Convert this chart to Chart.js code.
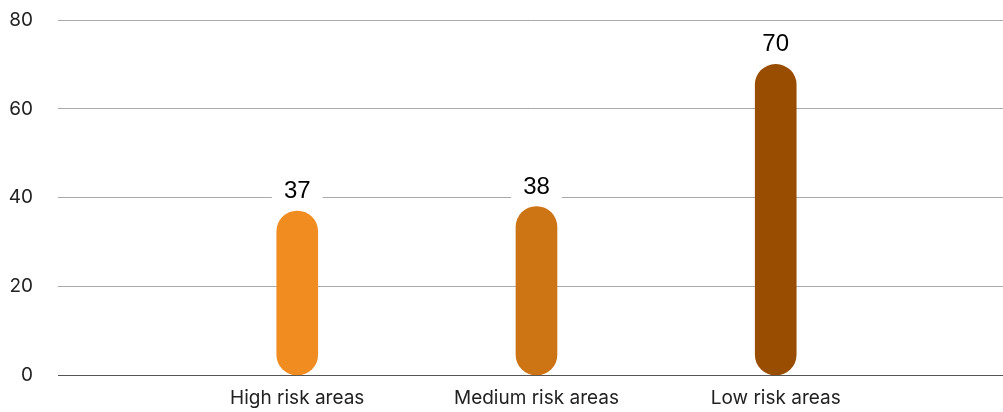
<!DOCTYPE html>
<html>
<head>
<meta charset="utf-8">
<script src="https://cdn.jsdelivr.net/npm/chart.js@4"></script>
<style>
  html, body { margin: 0; padding: 0; background: #fff; }
  #wrap { width: 1003px; height: 412px; }
</style>
</head>
<body>
<div id="wrap"><canvas id="grafico"></canvas></div>
<script>
  // dados do gráfico
  const categorias = ['High risk areas', 'Medium risk areas', 'Low risk areas'];
  const valores = [37, 38, 70];
  const cores = ['#F18C20', '#CD7414', '#994D00'];
  const ticksY = [0, 20, 40, 60, 80];

  const fonte = 'Inter, "Open Sans", sans-serif';

  // rótulos de valor acima das barras, com fundo branco
  const rotulosValor = {
    id: 'rotulosValor',
    afterDatasetsDraw(chart) {
      const ctx = chart.ctx;
      const meta = chart.getDatasetMeta(0);
      ctx.save();
      ctx.font = '24px "Liberation Sans", Arial, sans-serif';
      ctx.textAlign = 'center';
      ctx.textBaseline = 'alphabetic';
      meta.data.forEach((bar, i) => {
        const txt = String(valores[i]);
        const base = bar.y - 13;
        const w = ctx.measureText(txt).width;
        ctx.fillStyle = '#fff';
        ctx.fillRect(bar.x - w / 2 - 12, base - 20, w + 24, 25);
        ctx.fillStyle = '#000';
        ctx.fillText(txt, bar.x, base);
      });
      ctx.restore();
    }
  };

  new Chart(document.getElementById('grafico'), {
    type: 'bar',
    data: {
      datasets: [{
        data: valores.map((v, i) => ({ x: i, y: v })),
        backgroundColor: cores,
        barThickness: 41,
        borderRadius: 21,
        borderSkipped: false
      }]
    },
    options: {
      responsive: true,
      maintainAspectRatio: false,
      animation: false,
      layout: { padding: { top: 20, left: 0, right: 0, bottom: 0 } },
      plugins: {
        legend: { display: false },
        tooltip: { enabled: false }
      },
      scales: {
        x: {
          type: 'linear',
          offset: false,
          min: -1,
          max: 2.95,
          afterBuildTicks: axis => { axis.ticks = categorias.map((c, i) => ({ value: i })); },
          afterFit: axis => { axis.height = 36.5; },
          grid: { display: false },
          border: { display: true, color: '#555', width: 1 },
          ticks: {
            padding: 3,
            color: '#222',
            font: { family: fonte, size: 19 },
            maxRotation: 0,
            callback: v => categorias[v] ?? ''
          }
        },
        y: {
          min: 0,
          max: 80,
          afterBuildTicks: axis => { axis.ticks = ticksY.map(v => ({ value: v })); },
          afterFit: axis => { axis.width = 58; axis.paddingTop = 0; axis.paddingBottom = 0; },
          grid: { color: '#a9a9a9', lineWidth: 1, drawTicks: false },
          border: { display: false },
          ticks: {
            padding: 25,
            color: '#222',
            font: { family: fonte, size: 19 }
          }
        }
      }
    },
    plugins: [rotulosValor]
  });
</script>
</body>
</html>
